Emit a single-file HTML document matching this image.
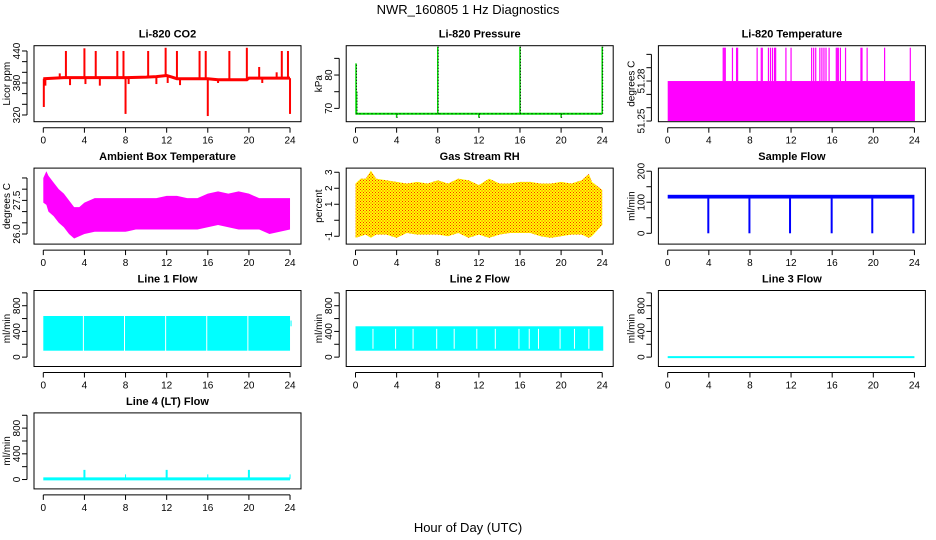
<!DOCTYPE html>
<html><head><meta charset="utf-8"><style>
html,body{margin:0;padding:0;background:#fff}
svg{display:block;font-family:"Liberation Sans",sans-serif}
</style></head><body>
<svg id="c" width="936" height="540" xmlns="http://www.w3.org/2000/svg">
<defs><pattern id="rhpat" width="3" height="3" patternUnits="userSpaceOnUse"><rect width="3" height="3" fill="#ffff00"/><rect x="0" y="0" width="1" height="1" fill="#ff2a00"/><rect x="1.5" y="1.5" width="1" height="1" fill="#ff2a00"/></pattern></defs>
<text x="468" y="14" text-anchor="middle" font-size="13">NWR_160805  1 Hz Diagnostics</text>
<text x="468" y="532" text-anchor="middle" font-size="13">Hour of Day (UTC)</text>
</svg>
<script>
const xTicks=[0,4,8,12,16,20,24];
// CO2
const co2BaseHours=[0,2,4,6,8,10,11,12,12.5,13,16,17,18,19.8,20,24];
const co2BaseVals=[388,390,390,390,390,391,392,394,391,388,388,386,386,386,389,389];
const co2SpikeHours=[0.05,0.2,1.6,2.2,2.6,4.0,4.1,5.1,5.5,7.2,7.8,8.0,8.3,10.2,11.0,11.9,12.1,13.0,13.3,15.2,15.8,16.0,17.0,18.1,19.8,21.0,21.3,22.7,23.2,23.8,24.0];
const co2SpikeVals=[335,375,398,440,376,445,378,440,375,440,440,322,378,440,378,446,380,440,376,440,440,318,380,440,446,410,380,400,440,440,322];
// Pressure
const presBase=68.4;
const presSpikeHours=[0.05,0.1,4.0,8.0,12.0,16.0,20.0,24.0];
const presSpikeVals=[83.5,75,67.2,88.5,67.2,88.5,67.2,88.5];
// Li-820 temperature
const ltLow=51.25, ltHigh=51.28, ltSpikeVal=51.305;
const ltSpikeHours=[5.4,5.5,5.6,6.3,6.7,6.8,8.7,9.1,9.2,9.8,10.0,10.2,10.4,10.5,11.5,12.0,14.0,14.2,14.4,14.8,15.0,15.2,15.4,15.7,16.4,16.5,16.6,16.8,17.3,18.8,18.9,19.4,21.1,23.6];
// Ambient box temperature
const ambHours=[0,0.3,0.5,1,1.5,2,2.5,3,3.5,4,5,6,7,8,9,10,11,12,13,14,15,16,17,18,19,20,21,22,23,24];
const ambUpper=[28.5,28.8,28.6,28.3,28.0,27.8,27.5,27.2,27.2,27.4,27.6,27.6,27.6,27.6,27.6,27.6,27.6,27.7,27.7,27.6,27.6,27.8,27.9,27.8,27.9,27.8,27.6,27.6,27.6,27.6];
const ambLower=[27.4,27.3,27.0,26.8,26.5,26.3,26.0,25.8,25.9,26.0,26.1,26.1,26.1,26.1,26.2,26.2,26.2,26.2,26.2,26.2,26.2,26.3,26.4,26.3,26.2,26.2,26.2,26.0,26.1,26.2];
// Gas stream RH
const rhHours=[0,0.5,1,1.5,2,3,4,5,6,7,8,9,10,11,12,13,14,15,16,17,18,19,20,21,22,22.7,23,24];
const rhUpper=[2.3,2.6,2.6,3.1,2.6,2.5,2.4,2.3,2.4,2.3,2.5,2.3,2.6,2.5,2.2,2.6,2.3,2.3,2.4,2.4,2.3,2.3,2.4,2.3,2.5,2.9,2.4,1.9];
const rhLower=[-1.1,-1.0,-0.9,-1.1,-0.9,-0.9,-1.1,-0.8,-0.9,-0.9,-0.9,-1.0,-0.8,-1.1,-0.9,-1.1,-0.9,-0.8,-0.8,-0.8,-1.0,-1.1,-1.0,-0.9,-0.9,-1.1,-1.0,-0.3];
// Sample flow
const sfLow=112, sfHigh=124;
const sfDipHours=[3.95,7.95,11.9,15.95,19.9,23.9];
const sfDipVals=[0,0,0,0,0,0];
// Line flows
const l1Low=100, l1High=640;
const l1GapHours=[3.9,7.9,11.9,15.9,19.9];
const l2Low=100, l2High=480;
const l2GapHours=[1.7,3.9,5.6,7.9,9.6,11.8,13.6,15.9,16.9,17.8,19.9,21.3,22.7];
const l3Val=0;
const l4Val=10;
const l4SpikeHours=[4,8,12,16,20,24];
const l4SpikeVals=[150,80,150,80,150,80];

const NS="http://www.w3.org/2000/svg";
const svg=document.getElementById('c');
function el(tag,attrs,parent){const e=document.createElementNS(NS,tag);for(const k in attrs)e.setAttribute(k,attrs[k]);(parent||svg).appendChild(e);return e;}

function panel(col,row,title,ylab,ymin,ymax,ticks,labels,name){
  const L=34+col*312.2, T=45.7+row*122.4, W=267, H=76;
  const g=el('g',{});
  
  
  const x=h=>L+9.3+h*10.28;
  const y=v=>T+H-(v-ymin)/(ymax-ymin)*H;
  const t=el('text',{x:L+W/2,y:T-8,'text-anchor':'middle','font-size':11,'font-weight':'bold'},g);t.textContent=title;
  
  
  const yl=el('text',{transform:`translate(${L-24},${T+H/2}) rotate(-90)`,'text-anchor':'middle','font-size':10},g);yl.textContent=ylab;
  
  
  const plot=el('g',{},g);
  const ax=el('g',{stroke:'#000','stroke-width':1,fill:'none'},g);
  
  
  el('rect',{x:L,y:T,width:W,height:H},ax);
  el('line',{x1:x(0),x2:x(24),y1:T+H+6,y2:T+H+6},ax);
  xTicks.forEach(h=>{el('line',{x1:x(h),x2:x(h),y1:T+H+6,y2:T+H+11},ax);
    const tx=el('text',{x:x(h),y:T+H+22,'text-anchor':'middle','font-size':10,stroke:'none',fill:'#000'},g);tx.textContent=h;
    
    });
  el('line',{x1:L-7,x2:L-7,y1:y(ticks[0]),y2:y(ticks[ticks.length-1])},ax);
  ticks.forEach(v=>el('line',{x1:L-12,x2:L-7,y1:y(v),y2:y(v)},ax));
  labels.forEach(v=>{const ty=el('text',{transform:`translate(${L-14},${y(v)}) rotate(-90)`,'text-anchor':'middle','font-size':10},g);ty.textContent=v;
    
    });
  return {x,y,plot};
}
function vline(p,h,v1,v2,color,w){return el('line',{x1:p.x(h),x2:p.x(h),y1:p.y(v1),y2:p.y(v2),stroke:color,'stroke-width':w},p.plot);}
function band(p,h1,h2,lo,hi,fill){return el('rect',{x:p.x(h1),y:p.y(hi),width:p.x(h2)-p.x(h1),height:p.y(lo)-p.y(hi),fill:fill},p.plot);}
function envelope(p,hrs,up,lo,fill){let d='M'+hrs.map((h,i)=>p.x(h)+','+p.y(up[i])).join('L');
  for(let i=hrs.length-1;i>=0;i--)d+='L'+p.x(hrs[i])+','+p.y(lo[i]);return el('path',{d:d+'Z',fill:fill},p.plot);}

// CO2
let p=panel(0,0,'Li-820 CO2','Licor ppm',307.4,449.9,[320,340,360,380,400,420,440],[320,380,440],'co2');
let s=el('polyline',{points:co2BaseHours.map((h,i)=>p.x(h)+','+p.y(co2BaseVals[i])).join(' '),fill:'none',stroke:'#ff0000','stroke-width':3},p.plot);


co2SpikeHours.forEach((h,i)=>{let b=co2BaseVals[0];for(let j=0;j<co2BaseHours.length;j++)if(co2BaseHours[j]<=h)b=co2BaseVals[j];vline(p,h,b,co2SpikeVals[i],'#ff0000',2);});

// Pressure
p=panel(1,0,'Li-820 Pressure','kPa',66,88.8,[70,75,80,85],[70,80],'pressure');
s=el('line',{x1:p.x(0),x2:p.x(24),y1:p.y(presBase),y2:p.y(presBase),stroke:'#00dd00','stroke-width':2},p.plot);


el('line',{x1:p.x(0),x2:p.x(24),y1:p.y(presBase),y2:p.y(presBase),stroke:'#000','stroke-width':1,'stroke-dasharray':'1 3'},p.plot);
presSpikeHours.forEach((h,i)=>{vline(p,h,presBase,presSpikeVals[i],'#00dd00',1.5);
  el('line',{x1:p.x(h)+0.5,x2:p.x(h)+0.5,y1:p.y(presBase),y2:p.y(presSpikeVals[i]),stroke:'#000','stroke-width':1,'stroke-dasharray':'1 2'},p.plot);});

// Li-820 temp
p=panel(2,0,'Li-820 Temperature','degrees C',51.2495,51.3065,[51.25,51.26,51.27,51.28,51.29,51.30],['51.25','51.28'],'li820-temp');
s=band(p,0,24.05,ltLow,ltHigh,'#ff00ff');


ltSpikeHours.forEach(h=>vline(p,h,ltHigh,ltSpikeVal,'#ff00ff',1.2));

// Ambient
p=panel(0,1,'Ambient Box Temperature','degrees C',25.55,28.94,[26,26.5,27,27.5,28,28.5],['26.0','27.5'],'ambient-temp');
s=envelope(p,ambHours,ambUpper,ambLower,'#ff00ff');



// RH
p=panel(1,1,'Gas Stream RH','percent',-1.49,3.26,[-1,0,1,2,3],[-1,1,2,3],'rh');
s=envelope(p,rhHours,rhUpper,rhLower,'url(#rhpat)');



// Sample flow
p=panel(2,1,'Sample Flow','ml/min',-34.8,210,[0,50,100,150,200],[0,100,200],'sample-flow');
s=band(p,0,24,sfLow,sfHigh,'#0000ff');


sfDipHours.forEach((h,i)=>vline(p,h,sfLow,sfDipVals[i],'#0000ff',2));

const lt=[0,200,400,600,800,1000], ll=[0,400,800];
// Line 1
p=panel(0,2,'Line 1 Flow','ml/min',-146,1037,lt,ll,'line1-flow');
s=band(p,0,24,l1Low,l1High,'#00ffff');


band(p,24.05,24.15,480,570,'#00ffff');
l1GapHours.forEach(h=>vline(p,h,l1Low-10,l1High+10,'#fff',1));
// Line 2
p=panel(1,2,'Line 2 Flow','ml/min',-146,1037,lt,ll,'line2-flow');
s=band(p,0,24.1,l2Low,l2High,'#00ffff');


l2GapHours.forEach(h=>vline(p,h,l2Low+30,l2High-40,'#fff',1));
// Line 3
p=panel(2,2,'Line 3 Flow','ml/min',-146,1037,lt,ll,'line3-flow');
s=el('line',{x1:p.x(0),x2:p.x(24),y1:p.y(l3Val),y2:p.y(l3Val),stroke:'#00ffff','stroke-width':2},p.plot);


// Line 4
p=panel(0,3,'Line 4 (LT) Flow','ml/min',-146,1037,lt,ll,'line4-flow');
s=el('line',{x1:p.x(0),x2:p.x(24),y1:p.y(l4Val),y2:p.y(l4Val),stroke:'#00ffff','stroke-width':3},p.plot);


l4SpikeHours.forEach((h,i)=>vline(p,h,l4Val,l4SpikeVals[i],'#00ffff',i%2?1:2));
</script>
</body></html>
